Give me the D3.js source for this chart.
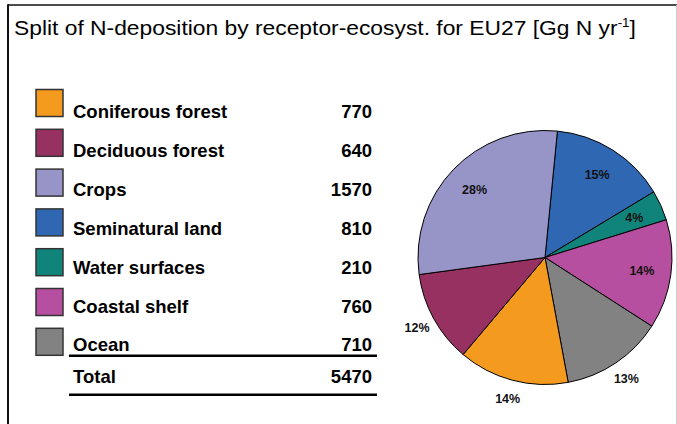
<!DOCTYPE html>
<html>
<head>
<meta charset="utf-8">
<script src="https://cdn.jsdelivr.net/npm/d3@7/dist/d3.min.js"></script>
<style>
  html, body { margin: 0; padding: 0; background: #fff; }
  svg { display: block; font-family: Arial, "Liberation Sans", sans-serif; }
</style>
</head>
<body>
<div id="chart"></div>
<script>
// legend rows, in the order of the table
const categories = ["Coniferous forest", "Deciduous forest", "Crops", "Seminatural land",
  "Water surfaces", "Coastal shelf", "Ocean"];
const values = [770, 640, 1570, 810, 210, 760, 710];
const percentLabels = ["14%", "12%", "28%", "15%", "4%", "14%", "13%"];
const totalValue = 5470;
const colors = ["#f49a1e", "#973162", "#9794c8", "#2f67b2", "#10847a", "#b74fa0", "#828282"];
// the pie runs clockwise from the top starting with Seminatural land
const pieOrder = ["Seminatural land", "Water surfaces", "Coastal shelf", "Ocean",
  "Coniferous forest", "Deciduous forest", "Crops"];

const width = 677, height = 424;

const svg = d3.select("#chart").append("svg")
  .attr("width", width)
  .attr("height", height);

// frame (top + left dark, right faint, no bottom)
svg.append("line").attr("x1", 8).attr("x2", width).attr("y1", 5).attr("y2", 5)
  .attr("stroke", "#111").attr("stroke-width", 1.6);
svg.append("line").attr("x1", 8).attr("x2", 8).attr("y1", 4.2).attr("y2", height)
  .attr("stroke", "#111").attr("stroke-width", 2);
svg.append("line").attr("x1", 676.5).attr("x2", 676.5).attr("y1", 5).attr("y2", height)
  .attr("stroke", "#ccc").attr("stroke-width", 1);

// title, squeezed a bit like the original
const title = svg.append("text")
  .attr("x", 0).attr("y", 0)
  .attr("font-size", 20.5)
  .attr("fill", "#000");
title.append("tspan").text("Split of N-deposition by receptor-ecosyst. for EU27 [Gg N yr");
title.append("tspan").attr("font-size", 12).attr("dy", -8).text("-1");
title.append("tspan").attr("dy", 8).text("]");
const tw = title.node().getComputedTextLength();
title.attr("transform", `translate(14,35) scale(${622 / tw},1)`);

// legend table
const rowY = d3.scaleLinear().domain([0, 1]).range([89, 128.8]);
const legend = svg.append("g");
const rows = legend.selectAll("g.row")
  .data(categories)
  .enter().append("g")
  .attr("class", "row")
  .attr("transform", (d, i) => `translate(0,${rowY(i)})`);

rows.append("rect")
  .attr("x", 36).attr("y", 0.5)
  .attr("width", 27).attr("height", 27)
  .attr("fill", (d, i) => colors[i])
  .attr("stroke", "#333")
  .attr("stroke-width", 1.5);

rows.append("text")
  .attr("x", 73).attr("y", (d, i) => 29 - i * 0.9)
  .attr("font-size", 18.5).attr("font-weight", "bold")
  .text(d => d);

rows.append("text")
  .attr("x", 372).attr("y", (d, i) => 29 - i * 0.9)
  .attr("text-anchor", "end")
  .attr("font-size", 18.5).attr("font-weight", "bold")
  .text((d, i) => values[i]);

const lastY = rowY(categories.length - 1);
legend.append("line")
  .attr("x1", 69).attr("x2", 377)
  .attr("y1", lastY + 28).attr("y2", lastY + 28)
  .attr("stroke", "#000").attr("stroke-width", 2.5);

legend.append("text")
  .attr("x", 73).attr("y", lastY + 55)
  .attr("font-size", 18.5).attr("font-weight", "bold")
  .text("Total");
legend.append("text")
  .attr("x", 372).attr("y", lastY + 55)
  .attr("text-anchor", "end")
  .attr("font-size", 18.5).attr("font-weight", "bold")
  .text(totalValue);

legend.append("line")
  .attr("x1", 69).attr("x2", 377)
  .attr("y1", lastY + 67).attr("y2", lastY + 67)
  .attr("stroke", "#000").attr("stroke-width", 2.5);

// pie
const cx = 545, cy = 257.5, radius = 127;
const startAngle = 5.6 * Math.PI / 180;
const sliceData = pieOrder.map(name => {
  const i = categories.indexOf(name);
  return { name, value: values[i], color: colors[i], label: percentLabels[i] };
});

const pie = d3.pie()
  .sort(null)
  .value(d => d.value)
  .startAngle(startAngle)
  .endAngle(startAngle + 2 * Math.PI);

const arc = d3.arc().innerRadius(0).outerRadius(radius);
const outsideLabels = new Set(["Ocean", "Coniferous forest", "Deciduous forest"]);

const pieG = svg.append("g").attr("transform", `translate(${cx},${cy})`);
const arcs = pie(sliceData);

pieG.selectAll("path")
  .data(arcs)
  .enter().append("path")
  .attr("d", arc)
  .attr("fill", d => d.data.color)
  .attr("stroke", "#000")
  .attr("stroke-width", 1)
  .attr("stroke-linejoin", "round");

pieG.selectAll("text")
  .data(arcs)
  .enter().append("text")
  .attr("transform", d => {
    const a = (d.startAngle + d.endAngle) / 2;
    const r = radius * (outsideLabels.has(d.data.name) ? 1.15 : 0.77);
    return `translate(${r * Math.sin(a)},${-r * Math.cos(a)})`;
  })
  .attr("dy", "0.36em")
  .attr("text-anchor", "middle")
  .attr("font-size", 12.5)
  .attr("font-weight", "bold")
  .attr("fill", "#111")
  .text(d => d.data.label);
</script>
</body>
</html>
